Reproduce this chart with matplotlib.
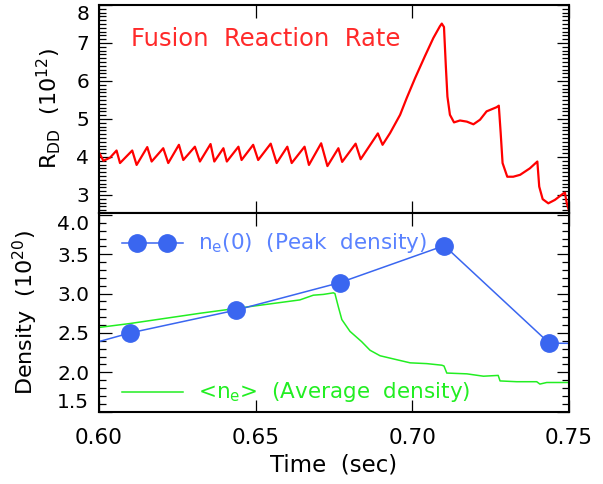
import numpy as np
import matplotlib
matplotlib.use("Agg")
import matplotlib.pyplot as plt
from matplotlib.ticker import MultipleLocator
from matplotlib.lines import Line2D

plt.rcParams['font.family'] = ['DejaVu Sans']
plt.rcParams['mathtext.default'] = 'regular'

# fusion reaction rate R_DD (1e12), sawtooth phase then ramp and crashes
rdd_t = [0.6000, 0.6014, 0.6035, 0.6056, 0.6067, 0.6106, 0.6120, 0.6154, 0.6168,
         0.6205, 0.6221, 0.6255, 0.6269, 0.6306, 0.6322, 0.6356, 0.6368, 0.6397,
         0.6408, 0.6445, 0.6455, 0.6492, 0.6508, 0.6548, 0.6567, 0.6601, 0.6615,
         0.6656, 0.6670, 0.6709, 0.6729, 0.6764, 0.6776, 0.6819, 0.6835, 0.6890,
         0.6905, 0.6929, 0.6961, 0.6982, 0.7009, 0.7040, 0.7067, 0.7088, 0.7094,
         0.7101, 0.7107, 0.7112, 0.7120, 0.7133, 0.7152, 0.7174, 0.7195, 0.7216,
         0.7237, 0.7269, 0.7276, 0.7282, 0.7288, 0.7303, 0.7322, 0.7344, 0.7375,
         0.7395, 0.7399, 0.7405, 0.7416, 0.7434, 0.7455, 0.7482, 0.7487, 0.7493,
         0.7501]
rdd = [4.12, 3.90, 3.98, 4.17, 3.84, 4.17, 3.79, 4.26, 3.88,
       4.23, 3.84, 4.32, 3.92, 4.27, 3.88, 4.34, 3.88, 4.23,
       3.88, 4.27, 3.92, 4.32, 3.92, 4.35, 3.84, 4.27, 3.84,
       4.27, 3.79, 4.36, 3.76, 4.23, 3.87, 4.35, 3.94, 4.62,
       4.32, 4.63, 5.11, 5.55, 6.08, 6.65, 7.13, 7.44, 7.51,
       7.42, 6.38, 5.59, 5.11, 4.91, 4.96, 4.93, 4.86, 4.98,
       5.20, 5.31, 5.35, 4.63, 3.84, 3.48, 3.48, 3.53, 3.70,
       3.85, 3.88, 3.22, 2.89, 2.78, 2.87, 3.04, 3.06, 2.78,
       2.56]

# peak density n_e(0) (1e20), Thomson points
ne0_t = [0.5765, 0.6099, 0.6437, 0.6769, 0.7102, 0.7437, 0.7770]
ne0 = [2.13, 2.50, 2.79, 3.14, 3.61, 2.37, 2.36]

# line averaged density <n_e> (1e20)
nebar_t = [0.6000, 0.6099, 0.6322, 0.6434, 0.6641, 0.6684, 0.6716, 0.6748, 0.6753,
           0.6764, 0.6775, 0.6801, 0.6838, 0.6865, 0.6897, 0.6950, 0.6993, 0.7046,
           0.7094, 0.7101, 0.7110, 0.7174, 0.7227, 0.7274, 0.7280, 0.7333, 0.7397,
           0.7407, 0.7429, 0.7500]
nebar = [2.57, 2.62, 2.75, 2.81, 2.92, 2.98, 2.99, 3.01, 3.00,
         2.83, 2.67, 2.52, 2.39, 2.28, 2.21, 2.16, 2.12, 2.11,
         2.09, 2.08, 1.99, 1.98, 1.95, 1.96, 1.89, 1.88, 1.88,
         1.85, 1.87, 1.87]

time_ticks = [0.60, 0.65, 0.70, 0.75]
time_labels = ['0.60', '0.65', '0.70', '0.75']
rdd_ticks = [3, 4, 5, 6, 7, 8]
dens_ticks = [1.5, 2.0, 2.5, 3.0, 3.5, 4.0]

red = '#ff0000'
blue = '#3a66f0'
green = '#22ee22'

fig = plt.figure(figsize=(6.03, 4.84), dpi=100)
ax1 = fig.add_axes([0.1642, 0.5599, 0.7794, 0.4298])
ax2 = fig.add_axes([0.1642, 0.1496, 0.7794, 0.4103])


def style_axis(ax):
    ax.tick_params(which='both', direction='in', top=True, right=True,
                   labelsize=14.5, pad=7, width=0.9)
    ax.tick_params(which='major', length=9)
    ax.tick_params(which='minor', length=5)
    for s in ax.spines.values():
        s.set_linewidth(1.5)
    ax.set_xlim(0.60, 0.75)
    ax.set_xticks(time_ticks)
    ax.xaxis.set_minor_locator(plt.NullLocator())


# top panel: reaction rate
ax1.plot(rdd_t, rdd, color=red, lw=1.6)
style_axis(ax1)
ax1.set_ylim(2.525, 8.0)
ax1.set_yticks(rdd_ticks)
ax1.yaxis.set_minor_locator(MultipleLocator(0.1))
ax1.set_xticklabels([])
ax1.set_ylabel('R$_{DD}$  (10$^{12}$)', fontsize=16)
ax1.yaxis.set_label_coords(-0.077, 0.5)
ax1.text(0.068, 0.837, 'Fusion  Reaction  Rate', transform=ax1.transAxes,
         color='#ff2a2a', fontsize=17.5, va='center', ha='left')

# bottom panel: densities
ax2.plot(nebar_t, nebar, color=green, lw=1.1)
ax2.plot(ne0_t, ne0, color=blue, lw=1.1, marker='o', ms=12.5,
         markerfacecolor=blue, markeredgecolor=blue)
style_axis(ax2)
ax2.set_ylim(1.5, 4.025)
ax2.set_yticks(dens_ticks)
ax2.set_yticklabels(['%.1f' % v for v in dens_ticks])
ax2.yaxis.set_minor_locator(MultipleLocator(0.1))
ax2.set_xticklabels(time_labels)
ax2.tick_params(axis='x', labelsize=15.5, pad=12)
ax2.set_xlabel('Time  (sec)', fontsize=16.5, labelpad=4)
ax2.set_ylabel('Density  (10$^{20}$)', fontsize=16)
ax2.yaxis.set_label_coords(-0.126, 0.5)

# edge tick labels sit inside the frame
ax1.get_yticklabels()[-1].set_va('top')
ax2.get_yticklabels()[-1].set_va('top')
ax2.get_yticklabels()[0].set_va('bottom')

# hand drawn legend entries
ax2.add_line(Line2D([0.049, 0.179], [0.849, 0.849], transform=ax2.transAxes,
                    color=blue, lw=1.1))
ax2.add_line(Line2D([0.081, 0.145], [0.849, 0.849], transform=ax2.transAxes,
                    color=blue, lw=0, marker='o', ms=12.5))
ax2.text(0.211, 0.849, 'n$_e$(0)  (Peak  density)', transform=ax2.transAxes,
         color='#5a82ff', fontsize=15.5, va='center', ha='left')
ax2.add_line(Line2D([0.049, 0.179], [0.099, 0.099], transform=ax2.transAxes,
                    color=green, lw=1.1))
ax2.text(0.211, 0.099, '<n$_e$>  (Average  density)', transform=ax2.transAxes,
         color=green, fontsize=15.5, va='center', ha='left')

fig.savefig('out.png', dpi=100)
